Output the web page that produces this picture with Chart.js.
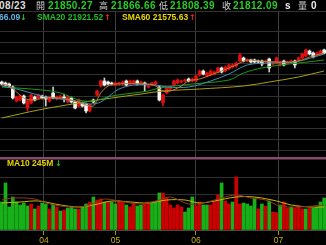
<!DOCTYPE html>
<html>
<head>
<meta charset="utf-8">
<script src="https://cdn.jsdelivr.net/npm/chart.js"></script>
<style>
  html, body { margin: 0; padding: 0; background: #000; }
  #wrap { position: relative; width: 326px; height: 245px; overflow: hidden; background: #000; font-family: "Liberation Sans", Arial, sans-serif; }
  .pane { position: absolute; left: 0; }
  .t { position: absolute; white-space: nowrap; font-weight: bold; z-index: 5; }
  .r1 { top: 1px; font-size: 10px; line-height: 10px; letter-spacing: 0.4px; }
  .r2 { top: 13px; font-size: 8.5px; line-height: 9px; }
  .cj { font-family: "Noto Sans CJK TC", sans-serif; font-weight: normal; font-size: 9px; color: #cfcfcf; letter-spacing: 0; }
  .v { color: #27cc27; }
  .ar { font-family: "DejaVu Sans", sans-serif; font-weight: bold; font-size: 8px; line-height: 9px; }
  .up { color: #ff2020; }
  .dn { color: #22cc22; }
  #hline { position: absolute; left: 0; top: 11px; width: 326px; height: 1px; background: #343434; }
  #sep { position: absolute; left: 0; top: 157px; width: 326px; height: 2px; background: #94446f; z-index: 4; }
</style>
</head>
<body>
<div id="wrap">
  <div class="pane" style="top:12px"><canvas id="price" width="326" height="146"></canvas></div>
  <div class="pane" style="top:158px"><canvas id="vol" width="326" height="87"></canvas></div>
  <div id="hline"></div>
  <div id="sep"></div>

  <div class="t r1" style="left:-1px;color:#dddddd">08/23</div>
  <div class="t r1 cj" style="left:36px">開</div>
  <div class="t r1 v" style="left:48px">21850.27</div>
  <div class="t r1 cj" style="left:99px">高</div>
  <div class="t r1 v" style="left:111px">21866.66</div>
  <div class="t r1 cj" style="left:159px">低</div>
  <div class="t r1 v" style="left:170px">21808.39</div>
  <div class="t r1 cj" style="left:222px">收</div>
  <div class="t r1 v" style="left:233px">21812.09</div>
  <div class="t r1" style="left:285px;color:#eeeeee">s</div>
  <div class="t r1 cj" style="left:298px">量</div>
  <div class="t r1" style="left:311px;color:#eeeeee">0</div>

  <div class="t r2" style="left:-1px;color:#5fb8e8">66.09</div>
  <div class="t r2 ar dn" style="left:20px">↓</div>
  <div class="t r2" style="left:37px;color:#22bb22">SMA20 21921.52</div>
  <div class="t r2 ar up" style="left:104px">↑</div>
  <div class="t r2" style="left:122px;color:#e8d800">SMA60 21575.63</div>
  <div class="t r2 ar up" style="left:189px">↑</div>

  <div class="t" style="left:7px;top:159px;font-size:8.5px;line-height:9px;color:#e6d200">MA10 245M</div>
  <div class="t ar dn" style="left:55px;top:159px">↓</div>
</div>

<script>
// month boundaries (bar index) and their labels
const monthPos = [11.5, 31, 53, 75.5];
const monthLabels = ['04', '05', '06', '07'];

// daily candles
const open = [
  21580, 21570, 21560, 21530, 21390, 21400, 21440, 21320, 21370, 21430,
  21420, 21440, 21430, 21390, 21470, 21410, 21420, 21430, 21380, 21420,
  21380, 21340, 21370, 21360, 21290, 21400, 21450, 21540, 21590, 21580,
  21570, 21550, 21560, 21560, 21590, 21560, 21570, 21590, 21570, 21570,
  21530, 21550, 21560, 21530, 21370, 21470, 21510, 21550, 21570, 21580,
  21590, 21610, 21590, 21590, 21650, 21690, 21640, 21650, 21660, 21680,
  21720, 21690, 21710, 21730, 21740, 21790, 21820, 21790, 21800, 21800,
  21790, 21790, 21780, 21810, 21760, 21770, 21750, 21790, 21770, 21780,
  21790, 21800, 21820, 21840, 21890, 21870, 21850, 21860, 21900
];
const close = [
  21560, 21550, 21540, 21420, 21430, 21440, 21370, 21390, 21450, 21400,
  21450, 21420, 21410, 21430, 21420, 21430, 21440, 21420, 21430, 21380,
  21320, 21400, 21340, 21290, 21350, 21380, 21490, 21590, 21550, 21560,
  21560, 21570, 21570, 21580, 21550, 21590, 21590, 21560, 21580, 21560,
  21540, 21570, 21580, 21400, 21450, 21520, 21530, 21590, 21600, 21590,
  21600, 21590, 21610, 21640, 21690, 21660, 21670, 21690, 21680, 21720,
  21680, 21730, 21750, 21750, 21770, 21850, 21790, 21800, 21780, 21780,
  21780, 21760, 21790, 21720, 21770, 21820, 21780, 21750, 21780, 21790,
  21750, 21820, 21860, 21900, 21860, 21830, 21870, 21890, 21870
];
const high = [
  21590, 21580, 21570, 21540, 21440, 21450, 21450, 21400, 21460, 21440,
  21460, 21450, 21440, 21440, 21530, 21440, 21450, 21460, 21440, 21430,
  21390, 21410, 21380, 21370, 21360, 21410, 21500, 21600, 21620, 21590,
  21580, 21580, 21580, 21590, 21600, 21600, 21600, 21600, 21590, 21580,
  21550, 21580, 21590, 21540, 21460, 21530, 21540, 21600, 21610, 21600,
  21610, 21620, 21620, 21650, 21700, 21700, 21680, 21700, 21690, 21730,
  21730, 21740, 21760, 21760, 21780, 21870, 21830, 21810, 21810, 21810,
  21800, 21800, 21800, 21820, 21780, 21830, 21790, 21800, 21790, 21800,
  21800, 21830, 21870, 21910, 21900, 21880, 21880, 21900, 21910
];
const low = [
  21550, 21540, 21530, 21410, 21380, 21390, 21360, 21290, 21360, 21390,
  21410, 21410, 21340, 21380, 21410, 21400, 21410, 21380, 21370, 21370,
  21310, 21330, 21330, 21270, 21280, 21370, 21440, 21530, 21540, 21550,
  21550, 21540, 21550, 21550, 21540, 21550, 21560, 21550, 21560, 21490,
  21520, 21540, 21550, 21390, 21340, 21460, 21500, 21540, 21560, 21570,
  21580, 21580, 21580, 21580, 21640, 21650, 21630, 21640, 21650, 21670,
  21670, 21680, 21700, 21720, 21730, 21780, 21780, 21780, 21770, 21770,
  21770, 21740, 21770, 21680, 21750, 21760, 21740, 21740, 21760, 21770,
  21720, 21790, 21810, 21830, 21850, 21820, 21840, 21850, 21860
];

// volume (M) and whether the bar is an up (red) day
const volume = [
  280, 470, 230, 330, 280, 250, 270, 240, 260, 210,
  240, 270, 260, 210, 250, 230, 190, 200, 220, 230,
  210, 210, 230, 260, 280, 330, 300, 310, 280, 280,
  280, 260, 290, 280, 250, 230, 260, 240, 250, 260,
  280, 280, 280, 370, 370, 320, 250, 220, 250, 230,
  180, 220, 330, 240, 280, 250, 250, 250, 290, 350,
  470, 290, 260, 280, 530, 260, 270, 260, 240, 320,
  210, 260, 240, 290, 180, 170, 250, 280, 220, 230,
  220, 240, 210, 210, 220, 220, 230, 280, 320
];
const volUp = [
  0, 0, 0, 0, 0, 0, 0, 0, 1, 0,
  1, 0, 0, 1, 0, 1, 0, 1, 0, 0,
  0, 1, 0, 0, 1, 0, 1, 1, 0, 1,
  0, 0, 1, 1, 0, 1, 1, 0, 0, 1,
  1, 0, 0, 0, 1, 1, 1, 1, 1, 1,
  0, 0, 0, 1, 1, 0, 0, 1, 1, 1,
  0, 1, 1, 0, 1, 1, 0, 0, 0, 0,
  1, 0, 1, 0, 1, 1, 0, 1, 1, 0,
  1, 1, 1, 0, 1, 0, 0, 0, 0
];

// moving averages (bar index, value)
const ma5At = [0, 2, 4, 6, 8, 12, 16, 20, 23, 25, 26, 27, 29, 31, 40, 42, 44, 46, 49, 51, 54, 57, 60, 62, 65, 67, 70, 75, 79, 82, 84, 88];
const ma5 = [21560, 21540, 21480, 21420, 21400, 21420, 21420, 21390, 21350, 21340, 21400, 21470, 21540, 21560, 21560, 21540, 21490, 21490, 21540, 21590, 21610, 21650, 21690, 21720, 21770, 21800, 21790, 21780, 21780, 21800, 21830, 21870];
const ma10At = [0, 4, 8, 12, 16, 20, 24, 27, 30, 32, 36, 42, 45, 51, 57, 62, 67, 73, 80, 88];
const ma10 = [21540, 21510, 21470, 21430, 21410, 21390, 21360, 21380, 21460, 21510, 21550, 21550, 21530, 21530, 21590, 21660, 21750, 21770, 21780, 21860];
const ma20At = [0, 11, 16, 21, 25, 30, 40, 43, 52, 62, 66, 71, 76, 81, 88];
const ma20 = [21530, 21500, 21470, 21400, 21390, 21440, 21490, 21520, 21560, 21600, 21670, 21720, 21750, 21770, 21800];
const ma60At = [0, 10, 21, 30, 38, 44, 54, 66, 73, 81, 88];
const ma60 = [21220, 21300, 21370, 21420, 21460, 21490, 21510, 21540, 21580, 21630, 21690];

const vma5At = [0, 3, 9, 13, 19, 23, 26, 28, 32, 38, 43, 46, 51, 55, 60, 64, 68, 72, 76, 81, 88];
const vma5 = [300, 320, 310, 260, 230, 240, 280, 310, 290, 260, 300, 330, 260, 270, 320, 350, 320, 300, 240, 230, 250];
const vma10At = [0, 5, 10, 16, 21, 25, 30, 35, 40, 45, 50, 54, 58, 64, 69, 75, 79, 84, 88];
const vma10 = [270, 280, 290, 250, 230, 250, 290, 280, 270, 300, 300, 270, 290, 330, 330, 290, 250, 230, 230];

// horizontal grid levels
const priceGrid = [22085, 21977, 21869, 21761, 21653, 21545, 21437, 21329, 21221, 21113, 21005, 20897];
const volGrid = [0, 176, 352, 528, 704];

Chart.defaults.font.family = '"Liberation Sans", Arial, sans-serif';

const RED = '#dc1010';
const WHITE = '#f4f4f4';

function pts(at, vals) {
  return at.map((x, i) => ({ x: x, y: vals[i] }));
}

function maLine(at, vals, color) {
  return {
    type: 'line',
    data: pts(at, vals),
    borderColor: color,
    borderWidth: 1,
    pointRadius: 0,
    tension: 0.35,
    order: 0
  };
}

const bars = open.map((_, i) => i);
const isUp = i => close[i] >= open[i];

const xBase = {
  type: 'linear',
  min: -0.5,
  max: 88.5,
  offset: false,
  bounds: 'data',
  border: { display: false },
  afterBuildTicks: s => { s.ticks = monthPos.map(v => ({ value: v })); }
};

new Chart(document.getElementById('price'), {
  type: 'bar',
  data: {
    datasets: [
      maLine(ma5At, ma5, '#c07a2c'),
      maLine(ma10At, ma10, '#3f8fb5'),
      maLine(ma20At, ma20, '#1a9a1a'),
      maLine(ma60At, ma60, '#a8a010'),
      {
        data: bars.map(i => ({ x: i, y: [open[i], close[i]] })),
        backgroundColor: ctx => isUp(ctx.dataIndex) ? RED : WHITE,
        barThickness: 3,
        minBarLength: 1,
        grouped: false,
        order: 2
      },
      {
        data: bars.map(i => ({ x: i, y: [low[i], high[i]] })),
        backgroundColor: ctx => isUp(ctx.dataIndex) ? RED : '#cfcfcf',
        barThickness: 1,
        grouped: false,
        order: 3
      }
    ]
  },
  options: {
    responsive: false,
    animation: false,
    devicePixelRatio: 1,
    layout: { padding: 0 },
    plugins: { legend: { display: false }, tooltip: { enabled: false } },
    scales: {
      x: Object.assign({}, xBase, {
        ticks: { display: false },
        grid: { color: '#3e3e3e', drawTicks: false, offset: false }
      }),
      y: {
        min: 20820,
        max: 22280,
        bounds: 'data',
        border: { display: false },
        ticks: { display: false },
        grid: { color: '#303030', drawTicks: false },
        afterBuildTicks: s => { s.ticks = priceGrid.map(v => ({ value: v })); }
      }
    }
  }
});

new Chart(document.getElementById('vol'), {
  type: 'bar',
  data: {
    datasets: [
      maLine(vma5At, vma5, '#8e3a1c'),
      maLine(vma10At, vma10, '#c8b400'),
      {
        data: bars.map(i => ({ x: i, y: volume[i] })),
        backgroundColor: ctx => volUp[ctx.dataIndex] ? '#cc0000' : '#18b018',
        barThickness: 3,
        grouped: false,
        order: 2
      }
    ]
  },
  options: {
    responsive: false,
    animation: false,
    devicePixelRatio: 1,
    layout: { padding: 0 },
    plugins: { legend: { display: false }, tooltip: { enabled: false } },
    scales: {
      x: Object.assign({}, xBase, {
        grid: { color: '#3e3e3e', tickColor: '#a89a00', tickLength: 5, offset: false },
        ticks: {
          color: '#c8b400',
          font: { size: 8.5 },
          padding: 1,
          maxRotation: 0,
          autoSkip: false,
          callback: (v, i) => monthLabels[i]
        },
        afterFit: s => { s.height = 15; }
      }),
      y: {
        min: 0,
        max: 720,
        bounds: 'data',
        border: { display: false },
        ticks: { display: false },
        grid: { color: ctx => ctx.tick.value === 0 ? '#4a4a4a' : '#303030', drawTicks: false },
        afterBuildTicks: s => { s.ticks = volGrid.map(v => ({ value: v })); }
      }
    }
  }
});
</script>
</body>
</html>
